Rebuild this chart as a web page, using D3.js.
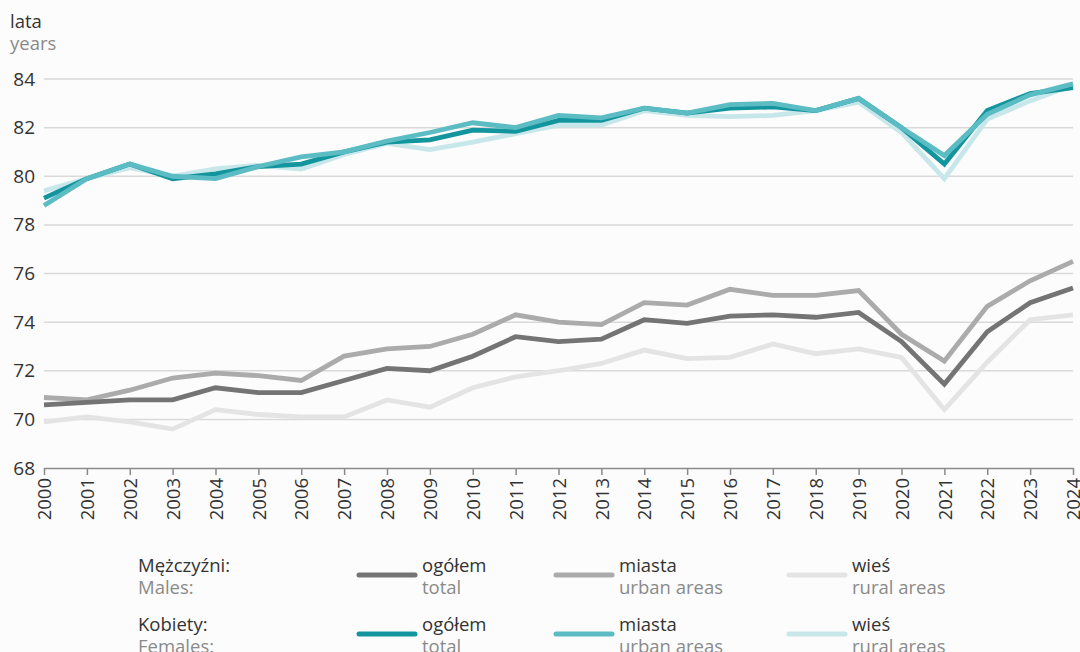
<!DOCTYPE html>
<html>
<head>
<meta charset="utf-8">
<script src="https://cdn.jsdelivr.net/npm/d3@7"></script>
<style>
  body { margin: 0; background: #fcfcfc; }
  svg { display: block; font-family: "Open Sans", "Noto Sans", sans-serif; }
</style>
</head>
<body>
<div class="chart"></div>
<script>
// data
var years = d3.range(2000, 2025);
var yTicks = [68, 70, 72, 74, 76, 78, 80, 82, 84];

var malesTotal = [70.6, 70.7, 70.8, 70.8, 71.3, 71.1, 71.1, 71.6, 72.1, 72.0, 72.6, 73.4, 73.2, 73.3, 74.1, 73.95, 74.25, 74.3, 74.2, 74.4, 73.2, 71.45, 73.6, 74.8, 75.4];
var malesUrban = [70.9, 70.8, 71.2, 71.7, 71.9, 71.8, 71.6, 72.6, 72.9, 73.0, 73.5, 74.3, 74.0, 73.9, 74.8, 74.7, 75.35, 75.1, 75.1, 75.3, 73.5, 72.4, 74.65, 75.7, 76.5];
var malesRural = [69.9, 70.1, 69.9, 69.6, 70.4, 70.2, 70.1, 70.1, 70.8, 70.5, 71.3, 71.75, 72.0, 72.3, 72.85, 72.5, 72.55, 73.1, 72.7, 72.9, 72.55, 70.4, 72.35, 74.1, 74.3];

var femalesTotal = [79.1, 79.9, 80.5, 79.9, 80.1, 80.4, 80.5, 81.0, 81.4, 81.5, 81.9, 81.85, 82.3, 82.3, 82.8, 82.6, 82.8, 82.85, 82.7, 83.2, 82.0, 80.5, 82.7, 83.4, 83.65];
var femalesUrban = [78.8, 79.9, 80.5, 80.0, 79.9, 80.4, 80.8, 81.0, 81.45, 81.8, 82.2, 82.0, 82.5, 82.4, 82.8, 82.6, 82.95, 83.0, 82.7, 83.2, 82.0, 80.85, 82.55, 83.35, 83.8];
var femalesRural = [79.4, 79.9, 80.35, 80.0, 80.3, 80.45, 80.3, 80.9, 81.35, 81.1, 81.4, 81.75, 82.1, 82.1, 82.7, 82.5, 82.45, 82.5, 82.7, 83.05, 81.8, 79.9, 82.35, 83.1, 83.75];

var svgWidth = 1080, svgHeight = 652;
var margin = { top: 79, right: 7, bottom: 184, left: 44 };
var width = svgWidth - margin.left - margin.right;
var height = svgHeight - margin.top - margin.bottom;

var svg = d3.select(".chart")
  .append("svg")
  .attr("width", svgWidth)
  .attr("height", svgHeight);

svg.append("rect")
  .attr("width", svgWidth)
  .attr("height", svgHeight)
  .attr("fill", "#fcfcfc");

var chartGroup = svg.append("g")
  .attr("transform", `translate(${margin.left}, ${margin.top})`);

var xScale = d3.scaleLinear().domain([2000, 2024]).range([0, width]);
var yScale = d3.scaleLinear().domain([68, 84]).range([height, 0]);

// gridlines
chartGroup.append("g")
  .selectAll("line")
  .data(yTicks.filter(d => d > 68))
  .enter()
  .append("line")
  .attr("x1", 0)
  .attr("x2", width)
  .attr("y1", d => yScale(d))
  .attr("y2", d => yScale(d))
  .attr("stroke", "#d9d9d9")
  .attr("stroke-width", 1.5);

// y axis labels
var yAxis = d3.axisLeft(yScale).tickValues(yTicks).tickSize(0).tickPadding(9);
var yG = chartGroup.append("g").call(yAxis);
yG.select(".domain").remove();
yG.selectAll("text")
  .attr("font-size", 19)
  .attr("fill", "#333")
  .attr("font-family", "Open Sans, sans-serif");

// x axis
var xAxis = d3.axisBottom(xScale).tickValues(years).tickFormat(d3.format("d")).tickSize(7).tickSizeOuter(0);
var xG = chartGroup.append("g")
  .attr("transform", `translate(0, ${height})`)
  .call(xAxis);
xG.select(".domain").attr("stroke", "#8a8a8a").attr("stroke-width", 1.5);
xG.selectAll(".tick line").attr("stroke", "#8a8a8a").attr("stroke-width", 1.5);
xG.selectAll("text")
  .attr("font-size", 18.5)
  .attr("fill", "#333")
  .attr("font-family", "Open Sans, sans-serif")
  .attr("transform", "rotate(-90)")
  .attr("text-anchor", "end")
  .attr("x", -10)
  .attr("y", 0)
  .attr("dy", "0.36em");

// axis title
svg.append("text").attr("x", 10).attr("y", 28).attr("font-size", 18.5).attr("fill", "#333").text("lata");
svg.append("text").attr("x", 10).attr("y", 50).attr("font-size", 18.5).attr("fill", "#8a8a8a").text("years");

// lines
var line = d3.line()
  .x((d, i) => xScale(years[i]))
  .y(d => yScale(d));

var series = [
  { values: malesRural, color: "#e4e4e4" },
  { values: malesUrban, color: "#ababab" },
  { values: malesTotal, color: "#747474" },
  { values: femalesRural, color: "#c7e7ea" },
  { values: femalesTotal, color: "#13959d" },
  { values: femalesUrban, color: "#5cbcc4" }
];

chartGroup.selectAll(".series")
  .data(series)
  .enter()
  .append("path")
  .attr("class", "series")
  .attr("d", d => line(d.values))
  .attr("fill", "none")
  .attr("stroke", d => d.color)
  .attr("stroke-width", 4.8)
  .attr("stroke-linejoin", "miter");

// legend
var legendRows = [
  { pl: "Mężczyźni:", en: "Males:", y: 572, colors: ["#747474", "#ababab", "#e4e4e4"] },
  { pl: "Kobiety:", en: "Females:", y: 631, colors: ["#13959d", "#5cbcc4", "#c7e7ea"] }
];
var legendItems = [
  { pl: "ogółem", en: "total", x: 359 },
  { pl: "miasta", en: "urban areas", x: 556 },
  { pl: "wieś", en: "rural areas", x: 789 }
];

legendRows.forEach(function(row) {
  svg.append("text").attr("x", 138).attr("y", row.y).attr("font-size", 18.5).attr("fill", "#333").text(row.pl);
  svg.append("text").attr("x", 138).attr("y", row.y + 22).attr("font-size", 18.5).attr("fill", "#8a8a8a").text(row.en);
  legendItems.forEach(function(item, i) {
    svg.append("line")
      .attr("x1", item.x).attr("x2", item.x + 56)
      .attr("y1", row.y + 3).attr("y2", row.y + 3)
      .attr("stroke", row.colors[i])
      .attr("stroke-width", 5)
      .attr("stroke-linecap", "round");
    svg.append("text").attr("x", item.x + 63).attr("y", row.y).attr("font-size", 18.5).attr("fill", "#333").text(item.pl);
    svg.append("text").attr("x", item.x + 63).attr("y", row.y + 22).attr("font-size", 18.5).attr("fill", "#8a8a8a").text(item.en);
  });
});
</script>
</body>
</html>
